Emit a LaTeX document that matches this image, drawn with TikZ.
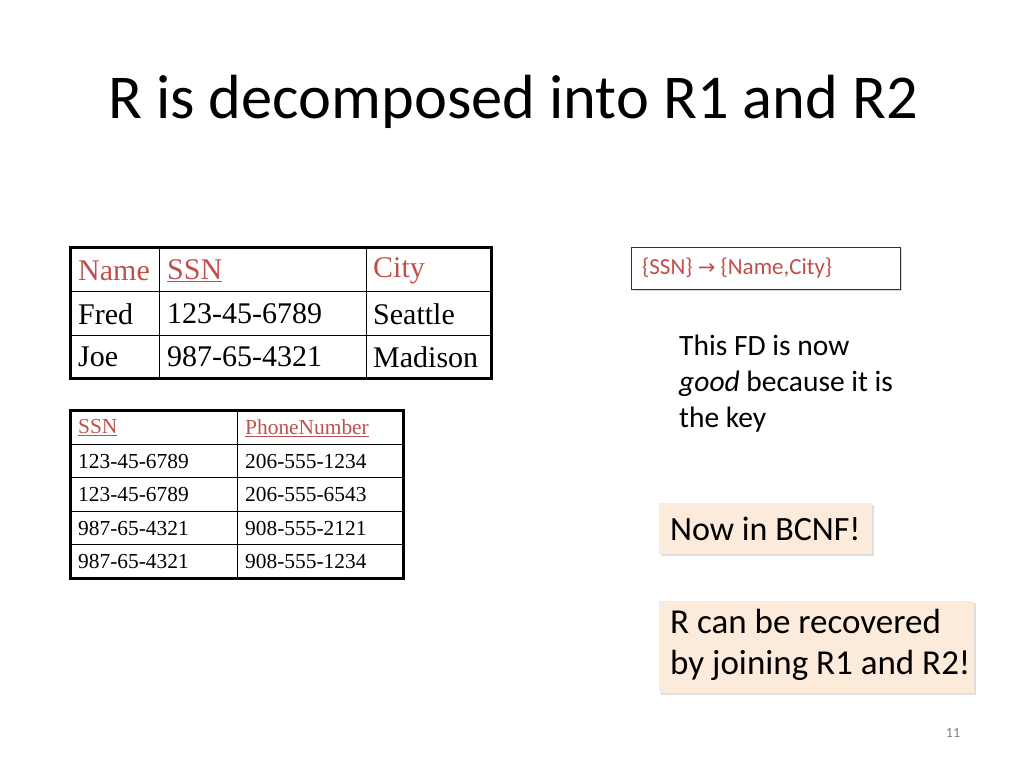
\documentclass[tikz,border=0pt]{standalone}
\usepackage{fontspec}
\setmainfont{Carlito}
\newfontfamily\tms{Liberation Serif}
\newfontfamily\djvfont{DejaVu Sans}
\usetikzlibrary{shadows}
\definecolor{hdr}{HTML}{C0504D}
\definecolor{peach}{HTML}{FCEADB}
\tikzset{
 cell/.style={anchor=west,inner sep=0pt},
 big/.style={cell,font=\tms\fontsize{30}{33}\selectfont},
 small/.style={cell,font=\tms\fontsize{21.4}{24}\selectfont},
 peachbox/.style={fill=peach,draw=none,drop shadow={shadow xshift=1.5pt,shadow yshift=-1.5pt,fill=black!25}}
}
\begin{document}
\begin{tikzpicture}[x=1pt,y=-1pt]
\useasboundingbox (0,0) rectangle (1024,768);
\node[anchor=base west,inner sep=0pt,font=\fontsize{62.4}{64}\selectfont] (title) at (108,118) {R is decomposed into R1 and R2};
% table R1
\draw[line width=1pt] (159,247)--(159,378) (366,247)--(366,378) (70,291)--(491,291) (70,335)--(491,335);
\draw[line width=3pt] (70,247) rectangle (491,378);
\node[big,text=hdr] (h1) at (78,271) {Name};
\node[big,text=hdr] (h2) at (167,271) {\underline{SSN}};
\node[big,text=hdr] (h3) at (373,271) {City};
\node[big] (a1) at (78,314) {Fred};
\node[big] (a2) at (167,314) {123-45-6789};
\node[big] (a3) at (373,314) {Seattle};
\node[big] (b1) at (78,357) {Joe};
\node[big] (b2) at (167,357) {987-65-4321};
\node[big] (b3) at (373,357) {Madison};
% table R2
\draw[line width=1pt] (237,410)--(237,578) (70,444)--(403,444) (70,477)--(403,477) (70,511)--(403,511) (70,544)--(403,544);
\draw[line width=3pt] (70,410) rectangle (403,578);
\node[small,text=hdr] (p0) at (78,428) {\underline{SSN}};
\node[small,text=hdr] (q0) at (245,428) {\underline{PhoneNumber}};
\node[small] (p1) at (78,461) {123-45-6789};
\node[small] (q1) at (245,461) {206-555-1234};
\node[small] (p2) at (78,494) {123-45-6789};
\node[small] (q2) at (245,494) {206-555-6543};
\node[small] (p3) at (78,528) {987-65-4321};
\node[small] (q3) at (245,528) {908-555-2121};
\node[small] (p4) at (78,561) {987-65-4321};
\node[small] (q4) at (245,561) {908-555-1234};
% FD box
\draw[fill=white,draw=black!80,line width=0.8pt,drop shadow={shadow xshift=1.5pt,shadow yshift=-1.5pt,fill=black!30}] (631,247) rectangle (900,289);
\node[cell,text=hdr,font=\fontsize{23}{26}\selectfont] (fd) at (642,268) {\{SSN\} {\djvfont\fontsize{21}{24}\selectfont →} \{Name,City\}};
\node[anchor=north west,inner sep=0pt,align=left,font=\fontsize{29.5}{36}\selectfont] (expl) at (679,335) {This FD is now\\\textit{good} because it is\\the key};
% boxes
\path[peachbox] (659,503) rectangle (872,554);
\node[cell,font=\fontsize{34}{38}\selectfont] (bcnf) at (670,529) {Now in BCNF!};
\path[peachbox] (659,601) rectangle (974,693);
\node[anchor=north west,inner sep=0pt,align=left,font=\fontsize{35}{41}\selectfont] (rec) at (670,609) {R can be recovered\\by joining R1 and R2!};
\node[font=\fontsize{14}{16}\selectfont,text=black!50] (pg) at (953,733) {11};
\end{tikzpicture}
\end{document}
